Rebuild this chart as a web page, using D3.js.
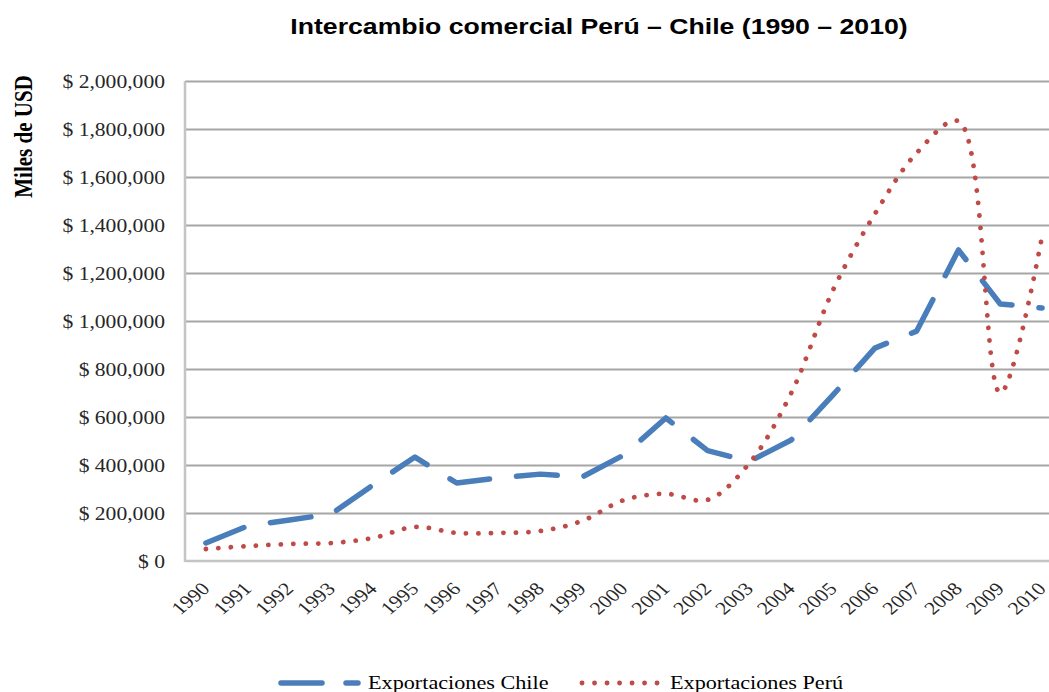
<!DOCTYPE html>
<html lang="es">
<head>
    <meta charset="UTF-8">
    <title>Intercambio comercial Perú – Chile</title>
    <script src="https://d3js.org/d3.v7.min.js"></script>
</head>
<style>
    body { margin: 0; background: #fff; }
    text { font-family: "Liberation Serif", "Times New Roman", serif; fill: #262626; }
    .title { font-family: "Liberation Sans", Arial, sans-serif; font-weight: bold; font-size: 22.2px; fill: #000; }
    .grid line { stroke: #a6a6a6; stroke-width: 1.8px; }
    .axis-line { stroke: #c4c4c4; stroke-width: 2.5px; }
</style>
<body>
<div class="chart"></div>
<script>
    // valores (miles de USD)
    var years = ["1990","1991","1992","1993","1994","1995","1996","1997","1998","1999","2000",
                 "2001","2002","2003","2004","2005","2006","2007","2008","2009","2010"];
    var chile = [75000, 146000, 171000, 196000, 317000, 433000, 325000, 346000, 362000, 350000, 442000,
                 596000, 460000, 415000, 504000, 692000, 887000, 958000, 1296000, 1071000, 1054000];
    var peru  = [50000, 62000, 71000, 75000, 96000, 142000, 117000, 117000, 125000, 167000, 254000,
                 280000, 255000, 408000, 700000, 1129000, 1446000, 1700000, 1833000, 700000, 1354000];
    var yTicks = [0, 200000, 400000, 600000, 800000, 1000000, 1200000, 1400000, 1600000, 1800000, 2000000];
    var legendNames = ["Exportaciones Chile", "Exportaciones Perú"];

    var W = 1049, H = 692;
    var sx = 1.2; // el original esta estirado horizontalmente
    var margin = {top: 81, left: 185, bottom: 131};
    var plotW = 878, plotH = H - margin.top - margin.bottom;

    var svg = d3.select(".chart").append("svg")
        .attr("width", W).attr("height", H);

    var x = d3.scaleBand().domain(years).range([0, plotW]);
    var y = d3.scaleLinear().domain([0, 2000000]).range([plotH, 0]);
    var cx = function(i) { return x(years[i]) + x.bandwidth() / 2; };

    svg.append("text").attr("class", "title")
        .attr("text-anchor", "middle")
        .attr("transform", "translate(599,34) scale(" + sx + ",1)")
        .text("Intercambio comercial Perú – Chile (1990 – 2010)");

    svg.append("text")
        .attr("text-anchor", "middle")
        .style("font-weight", "bold").style("font-size", "21px").style("fill", "#000")
        .attr("transform", "translate(32,136.5) scale(" + sx + ",1) rotate(-90)")
        .text("Miles de USD");

    var g = svg.append("g").attr("transform", "translate(" + margin.left + "," + margin.top + ")");

    // grid + etiquetas eje y
    var yAxis = g.append("g").attr("class", "grid")
        .call(d3.axisLeft(y).tickValues(yTicks).tickSize(-plotW)
            .tickFormat(function(d) { return "$ " + d3.format(",")(d); }));
    yAxis.select(".domain").remove();
    yAxis.selectAll(".tick").filter(function(d) { return d === 0; }).select("line").remove();
    yAxis.selectAll("text")
        .attr("x", -20 / sx).attr("dy", "0.34em")
        .style("font-size", "18px")
        .attr("transform", "scale(" + sx + ",1)");

    // ejes
    g.append("line").attr("class", "axis-line")
        .attr("x1", 0).attr("x2", plotW).attr("y1", y(0)).attr("y2", y(0));
    g.append("line").attr("class", "axis-line")
        .attr("x1", 0).attr("x2", 0).attr("y1", y(2000000)).attr("y2", y(0) + 1);

    var xAxis = g.append("g")
        .attr("transform", "translate(0," + plotH + ")")
        .call(d3.axisBottom(x).tickSize(0));
    xAxis.select(".domain").remove();
    xAxis.selectAll("text")
        .attr("x", 0).attr("y", 0).attr("dy", 0)
        .attr("text-anchor", "end")
        .style("font-size", "18px")
        .attr("transform", "translate(5,29) scale(" + sx + ",1) rotate(-45)");

    // series
    var lineChile = d3.line()
        .x(function(d, i) { return cx(i); })
        .y(function(d) { return y(d); });
    var linePeru = d3.line()
        .x(function(d, i) { return cx(i); })
        .y(function(d) { return y(d); })
        .curve(d3.curveCatmullRom.alpha(0.5));

    g.append("path").datum(chile)
        .attr("d", lineChile)
        .attr("fill", "none")
        .attr("stroke", "#4a7ebb")
        .attr("stroke-width", 5.5)
        .attr("stroke-linecap", "round")
        .attr("stroke-linejoin", "round")
        .attr("stroke-dasharray", "41,27");

    g.append("path").datum(peru)
        .attr("d", linePeru)
        .attr("fill", "none")
        .attr("stroke", "#be4b48")
        .attr("stroke-width", 4.8)
        .attr("stroke-linecap", "round")
        .attr("stroke-dasharray", "0.1,12.4");

    // leyenda
    var leg = svg.append("g");
    leg.append("line")
        .attr("x1", 281).attr("x2", 358).attr("y1", 683).attr("y2", 683)
        .attr("stroke", "#4a7ebb").attr("stroke-width", 5.5)
        .attr("stroke-linecap", "round").attr("stroke-dasharray", "41,24");
    leg.append("line")
        .attr("x1", 582).attr("x2", 659).attr("y1", 683).attr("y2", 683)
        .attr("stroke", "#be4b48").attr("stroke-width", 4.8)
        .attr("stroke-linecap", "round").attr("stroke-dasharray", "0.1,12.4");
    leg.selectAll("text.lg").data(legendNames).enter().append("text")
        .attr("class", "lg")
        .style("font-size", "18.5px").style("fill", "#000")
        .attr("transform", function(d, i) {
            return "translate(" + (i === 0 ? 368 : 670) + ",689) scale(" + sx + ",1)";
        })
        .text(function(d) { return d; });
</script>
</body>
</html>
